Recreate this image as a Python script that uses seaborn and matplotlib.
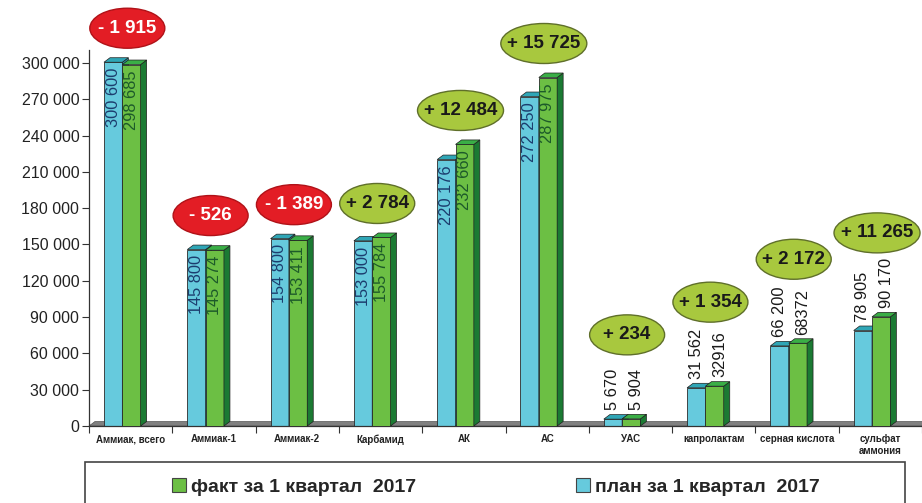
import pandas as pd
import seaborn as sns
import matplotlib.pyplot as plt
from matplotlib.patches import Polygon, Ellipse, Patch

# data
categories = ['Аммиак, всего', 'Аммиак-1', 'Аммиак-2', 'Карбамид', 'АК', 'АС',
              'УАС', 'капролактам', 'серная кислота', 'сульфат\nаммония']
plan = [300600, 145800, 154800, 153000, 220176, 272250, 5670, 31562, 66200, 78905]
fact = [298685, 145274, 153411, 155784, 232660, 287975, 5904, 32916, 68372, 90170]
plan_labels = ['300 600', '145 800', '154 800', '153 000', '220 176', '272 250',
               '5 670', '31 562', '66 200', '78 905']
fact_labels = ['298 685', '145 274', '153 411', '155 784', '232 660', '287 975',
               '5 904', '32916', '68372', '90 170']
diff_labels = ['- 1 915', '- 526', '- 1 389', '+ 2 784', '+ 12 484', '+ 15 725',
               '+ 234', '+ 1 354', '+ 2 172', '+ 11 265']
yticks = list(range(0, 300001, 30000))
plan_name = 'план за 1 квартал  2017'
fact_name = 'факт за 1 квартал  2017'

sns.set_theme(style="white")
plt.rcParams['font.family'] = ['Liberation Sans', 'DejaVu Sans']

CYAN, CYAN_TOP = '#66cadd', '#2fa6b6'
GREEN, GREEN_TOP, GREEN_SIDE = '#6cbf44', '#3aae46', '#1b7a33'

df = pd.DataFrame({
    'cat': categories * 2,
    'series': [plan_name] * len(plan) + [fact_name] * len(fact),
    'value': plan + fact,
})

fig = plt.figure(figsize=(9.22, 5.03), dpi=100)
ax = fig.add_axes([89 / 922, 77 / 503, 833 / 922, 376 / 503])
sns.barplot(data=df, x='cat', y='value', hue='series', hue_order=[plan_name, fact_name],
            palette=[CYAN, GREEN], width=0.44, gap=0, legend=False, ax=ax,
            edgecolor='#2b2b2b', linewidth=0.6, saturation=1)

ymax = 310700
ax.set_xlim(-0.5, len(categories) - 0.5)
ax.set_ylim(0, ymax)

# pixel -> data conversions for 3D depth
xu = len(categories) / 833.0
yu = ymax / 376.0
dx, dy = 6 * xu, 4.5 * yu

# floor
ax.add_patch(Polygon([(-0.5, 0), (len(categories) - 0.5, 0),
                      (len(categories) - 0.5 + dx, dy), (-0.5 + dx, dy)],
                     closed=True, facecolor='#808080', edgecolor='#555555',
                     lw=0.5, zorder=1.5, clip_on=False))

shift = -0.1
for k, (cont, top_c, side_c) in enumerate([(ax.containers[0], CYAN_TOP, '#2a8f9c'),
                                           (ax.containers[1], GREEN_TOP, GREEN_SIDE)]):
    z = 2 + k
    for bar in cont:
        bar.set_x(bar.get_x() + shift)
        bar.set_zorder(z)
        x0, w, h = bar.get_x(), bar.get_width(), bar.get_height()
        ax.add_patch(Polygon([(x0 + w, 0), (x0 + w + dx, dy), (x0 + w + dx, h + dy), (x0 + w, h)],
                             closed=True, facecolor=side_c, edgecolor='#1f1f1f', lw=0.5,
                             zorder=z + 0.1, clip_on=False))
        ax.add_patch(Polygon([(x0, h), (x0 + w, h), (x0 + w + dx, h + dy), (x0 + dx, h + dy)],
                             closed=True, facecolor=top_c, edgecolor='#1f1f1f', lw=0.5,
                             zorder=z + 0.1, clip_on=False))

# value labels
for i in range(len(categories)):
    pb, fb = ax.containers[0][i], ax.containers[1][i]
    for bar, txt, inner, off in [(pb, plan_labels[i], '#1c3d6e', 0.0),
                                 (fb, fact_labels[i], '#1d5a2a', 0.06)]:
        cx = bar.get_x() + bar.get_width() / 2
        h = bar.get_height()
        if h > 100000:
            ax.annotate(txt, (cx, h), xytext=(0, -4), textcoords='offset points',
                        rotation=90, ha='center', va='top', fontsize=11.8,
                        color=inner, zorder=6)
        else:
            ax.annotate(txt, (cx + off, h + dy), xytext=(0, 3), textcoords='offset points',
                        rotation=90, ha='center', va='bottom', fontsize=11.8,
                        color='#1a1a1a', zorder=6)

# difference ellipses
for i, txt in enumerate(diff_labels):
    top = max(plan[i], fact[i])
    inside = top > 100000
    cy = top + (34 if inside else 84) * yu
    cx = i - 0.04
    wpx = 75 if len(txt) <= 7 else 86
    neg = txt.startswith('-')
    ax.add_patch(Ellipse((cx, cy), wpx * xu, 40 * yu,
                         facecolor='#e31d25' if neg else '#a8c83e',
                         edgecolor='#b01218' if neg else '#5f6f2a', lw=1.0,
                         zorder=7, clip_on=False))
    ax.text(cx, cy, txt, ha='center', va='center', fontsize=13.5, fontweight='bold',
            color='white' if neg else '#1a1a1a', zorder=8, clip_on=False)

# axes styling
ax.set_yticks(yticks)
ax.set_yticklabels(['{:,}'.format(v).replace(',', ' ') for v in yticks],
                   fontsize=11.5, color='#222222')
ax.set_xticks([i - 0.5 for i in range(len(categories) + 1)])
ax.set_xticklabels([])
ax.set_xticks(range(len(categories)), minor=True)
ax.set_xticklabels(categories, minor=True, fontsize=7, fontweight='bold', color='#222222')
ax.tick_params(axis='x', which='major', direction='out', length=5, width=0.8,
               color='#333333', bottom=True)
ax.tick_params(axis='x', which='minor', length=0, pad=6)
ax.tick_params(axis='y', direction='out', length=5, width=0.8, color='#333333', left=True, pad=2)
ax.set_xlabel('')
ax.set_ylabel('')
for s in ['top', 'right']:
    ax.spines[s].set_visible(False)
for s in ['left', 'bottom']:
    ax.spines[s].set_color('#333333')
    ax.spines[s].set_linewidth(0.9)

# legend box
fig.patches.append(plt.Rectangle((85 / 922, -0.05), 820 / 922, 0.05 + 41 / 503,
                                 transform=fig.transFigure, facecolor='white',
                                 edgecolor='#444444', lw=1.2))
handles = [Patch(facecolor=GREEN, edgecolor='#444444', lw=0.8, label=fact_name),
           Patch(facecolor=CYAN, edgecolor='#444444', lw=0.8, label=plan_name)]
fig.legend(handles=handles, loc='center', bbox_to_anchor=(0.538, 0.032), ncol=2,
           frameon=False, prop={'size': 14, 'weight': 'bold'}, handlelength=0.7,
           handleheight=0.7, handletextpad=0.3, columnspacing=8.2)

fig.savefig('out.png', dpi=100)
